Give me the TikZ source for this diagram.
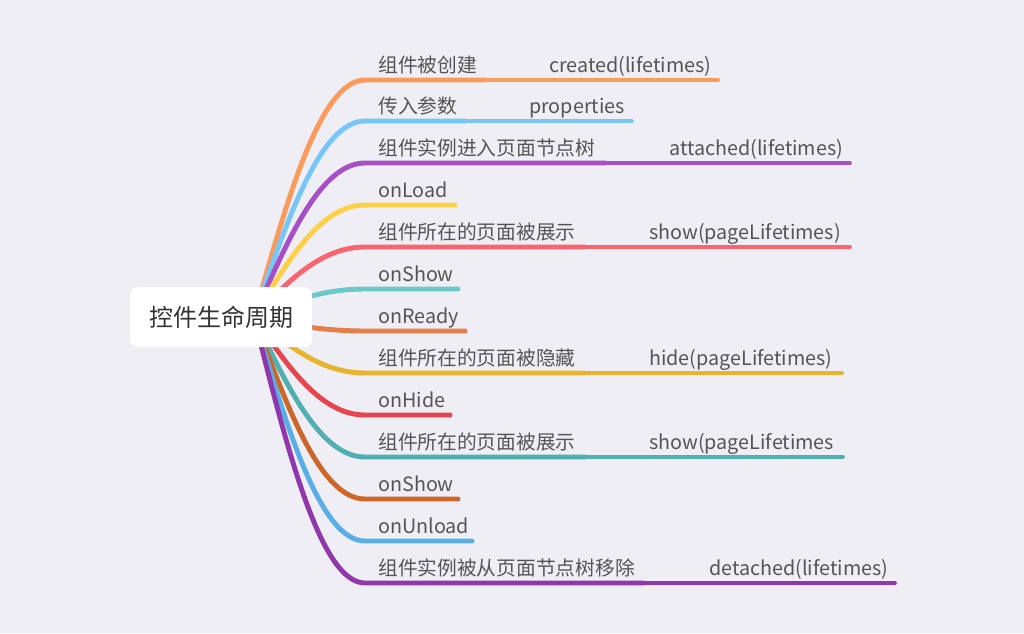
\documentclass[tikz,border=0pt]{standalone}
\usepackage{fontspec}
\setmainfont{Noto Sans CJK SC}
\usetikzlibrary{calc}
\definecolor{bg}{HTML}{EFEEF4}
\definecolor{txt}{HTML}{555555}
\definecolor{roottxt}{HTML}{333333}
\definecolor{cA}{HTML}{FC9A5C}
\definecolor{cB}{HTML}{76C7F8}
\definecolor{cC}{HTML}{A64FC6}
\definecolor{cD}{HTML}{FFCF45}
\definecolor{cE}{HTML}{F9646E}
\definecolor{cF}{HTML}{6BC9C9}
\definecolor{cG}{HTML}{E57F48}
\definecolor{cH}{HTML}{E9B42D}
\definecolor{cI}{HTML}{E6444F}
\definecolor{cJ}{HTML}{50AFB1}
\definecolor{cK}{HTML}{CD6629}
\definecolor{cL}{HTML}{5AAEE6}
\definecolor{cM}{HTML}{9236AC}
\newcommand\mmcurve[3]{% id, y, colour
  \coordinate (b#1) at (365,#2);
  \draw[lone,#3] let \p1=(r), \p2=(b#1) in
    (r) .. controls ({\x1+0.3*(\x2-\x1)},{\y1+0.5*(\y2-\y1)})
    and ({\x2-0.4*(\x2-\x1)},\y2) .. (b#1) -- (m#1);}
\newcommand\mmleaf[5]{% id, y, colour, text, end
  \coordinate (m#1) at (#5,#2);
  \mmcurve{#1}{#2}{#3}
  \node[lbl] (t#1) at (378,#2-8) {#4};}
\newcommand\mmpair[8]{% id, y, colour, text1, mid, x2, text2, end
  \coordinate (m#1) at (#5,#2);
  \coordinate (e#1) at (#8,#2);
  \mmcurve{#1}{#2}{#3}
  \draw[ltwo,#3] (m#1) -- (e#1);
  \node[lbl] (t#1) at (378,#2-8) {#4};
  \node[lbl] (u#1) at (#6,#2-8) {#7};}
\begin{document}
\begin{tikzpicture}[x=0.75pt,y=-0.75pt,
  lbl/.style={anchor=base west,inner sep=0pt,text=txt,font=\fontsize{14.8pt}{16pt}\selectfont},
  lone/.style={line width=3.7pt,line cap=round},
  ltwo/.style={line width=2.8pt,line cap=round},
  rootbox/.style={fill=white,rounded corners=6pt,minimum width=136.5pt,minimum height=45pt,inner sep=0pt,text=roottxt,font=\fontsize{18pt}{20pt}\selectfont}]
\fill[bg] (0,0) rectangle (1024,633);
\useasboundingbox (0,0) rectangle (1024,633);
\coordinate (r) at (254,317);
\mmpair{1}{80}{cA}{组件被创建}{485}{549}{created(lifetimes)}{718}
\mmpair{2}{121}{cB}{传入参数}{465}{529}{properties}{632}
\mmpair{3}{163}{cC}{组件实例进入页面节点树}{605}{669}{attached(lifetimes)}{850}
\mmleaf{4}{205}{cD}{onLoad}{455}
\mmpair{5}{247}{cE}{组件所在的页面被展示}{584}{649}{show(pageLifetimes)}{850}
\mmleaf{6}{289}{cF}{onShow}{458}
\mmleaf{7}{331}{cG}{onReady}{465}
\mmpair{8}{373}{cH}{组件所在的页面被隐藏}{585}{649}{hide(pageLifetimes)}{842}
\mmleaf{9}{415}{cI}{onHide}{450}
\mmpair{10}{457}{cJ}{组件所在的页面被展示}{585}{649}{show(pageLifetimes}{843}
\mmleaf{11}{499}{cK}{onShow}{458}
\mmleaf{12}{541}{cL}{onUnload}{472}
\mmpair{13}{583}{cM}{组件实例被从页面节点树移除}{644}{709}{detached(lifetimes)}{895}
\node[rootbox] (root) at (221,317) {控件生命周期};
\end{tikzpicture}
\end{document}
